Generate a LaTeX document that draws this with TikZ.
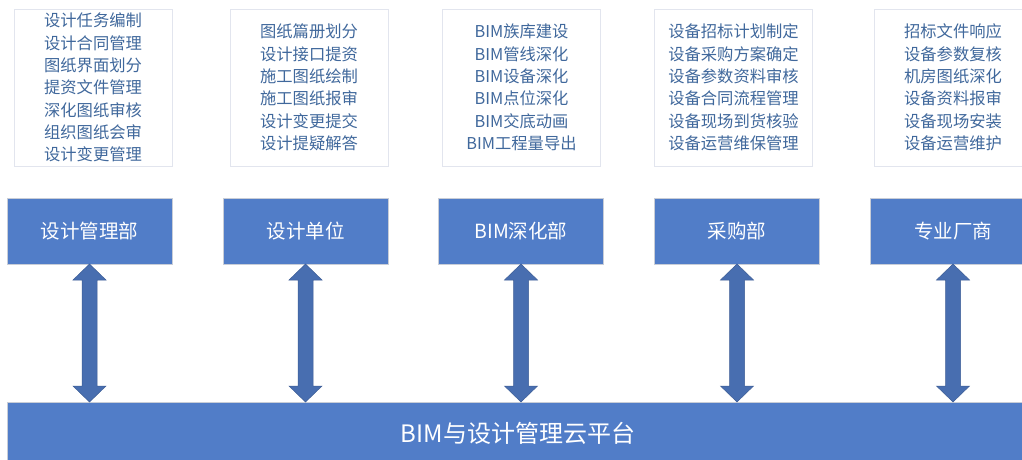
\documentclass[tikz,border=0pt]{standalone}
\usepackage{fontspec}
\newfontfamily\cjk{Noto Sans CJK SC}
\usetikzlibrary{calc}
\definecolor{boxblue}{RGB}{81,125,200}
\definecolor{arrowblue}{RGB}{72,110,176}
\definecolor{txtblue}{RGB}{64,104,156}
\definecolor{lineg}{RGB}{226,229,238}
\definecolor{edgeg}{RGB}{200,205,215}
\tikzset{
  listbox/.style={draw=lineg, line width=0.8pt, fill=white, minimum width=158pt, minimum height=157pt,
    inner sep=0pt, outer sep=0pt, align=center, text=txtblue,
    font=\cjk\fontsize{16.3}{22.3}\selectfont},
  deptbox/.style={draw=edgeg, line width=0.8pt, fill=boxblue, minimum width=165pt, minimum height=66pt,
    inner sep=0pt, outer sep=0pt, text=white, font=\cjk\fontsize{19.5}{22}\selectfont},
  barbox/.style={draw=edgeg, line width=0.8pt, fill=boxblue, minimum width=1022pt, minimum height=62pt,
    inner sep=0pt, outer sep=0pt, text=white, font=\cjk\fontsize{24}{27}\selectfont},
  dblarrow/.style={fill=arrowblue, draw=arrowblue!85!black, line width=0.5pt, line join=miter}
}
\begin{document}
\begin{tikzpicture}[x=1pt,y=-1pt]
\useasboundingbox (0,0) rectangle (1022,460);
\clip (0,0) rectangle (1022,460);
\fill[white] (0,0) rectangle (1022,460);

\node[listbox] (t1) at (93,87.5) {设计任务编制\\设计合同管理\\图纸界面划分\\提资文件管理\\深化图纸审核\\组织图纸会审\\设计变更管理};
\node[listbox] (t2) at (309,87.5) {图纸篇册划分\\设计接口提资\\施工图纸绘制\\施工图纸报审\\设计变更提交\\设计提疑解答};
\node[listbox] (t3) at (521.5,87.5) {BIM族库建设\\BIM管线深化\\BIM设备深化\\BIM点位深化\\BIM交底动画\\BIM工程量导出};
\node[listbox] (t4) at (733.5,87.5) {设备招标计划制定\\设备采购方案确定\\设备参数资料审核\\设备合同流程管理\\设备现场到货核验\\设备运营维保管理};
\node[listbox] (t5) at (953,87.5) {招标文件响应\\设备参数复核\\机房图纸深化\\设备资料报审\\设备现场安装\\设备运营维护};

\node[deptbox] (d1) at (89.5,231) {设计管理部};
\node[deptbox] (d2) at (305.5,231) {设计单位};
\node[deptbox] (d3) at (521,231) {BIM深化部};
\node[deptbox] (d4) at (737,231) {采购部};
\node[deptbox] (d5) at (953,231) {专业厂商};

\node[barbox, anchor=north west] (bar) at (7,402) {BIM与设计管理云平台};

\foreach \i in {1,...,5}{
  \coordinate (a\i) at (d\i.south);
  \coordinate (b\i) at (d\i.south |- bar.north);
  \path[dblarrow] (a\i) -- ($(a\i)+(16.5,16)$) -- ($(a\i)+(7.5,16)$) -- ($(b\i)+(7.5,-16)$)
    -- ($(b\i)+(16.5,-16)$) -- (b\i) -- ($(b\i)+(-16.5,-16)$) -- ($(b\i)+(-7.5,-16)$)
    -- ($(a\i)+(-7.5,16)$) -- ($(a\i)+(-16.5,16)$) -- cycle;
}
\end{tikzpicture}
\end{document}
